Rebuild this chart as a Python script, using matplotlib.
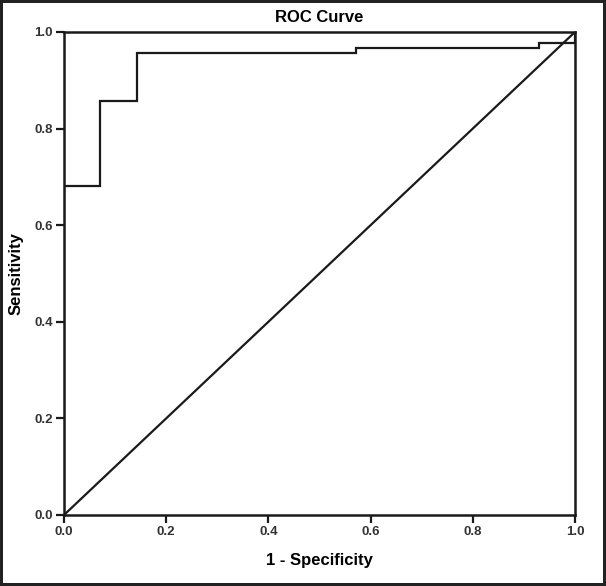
import matplotlib
matplotlib.use("Agg")
import matplotlib.pyplot as plt

plt.rcParams['font.family'] = ['Liberation Sans', 'DejaVu Sans']

# ROC step curve (1 - specificity, sensitivity)
fpr = [0.0, 0.0, 0.071, 0.071, 0.143, 0.143, 0.571, 0.571, 0.929, 0.929, 1.0, 1.0]
tpr = [0.0, 0.682, 0.682, 0.858, 0.858, 0.957, 0.957, 0.967, 0.967, 0.978, 0.978, 1.0]

ref = [0.0, 1.0]
ticks = [0.0, 0.2, 0.4, 0.6, 0.8, 1.0]
tick_labels = ['0.0', '0.2', '0.4', '0.6', '0.8', '1.0']

fig = plt.figure(figsize=(6.06, 5.86), dpi=100)
fig.patch.set_edgecolor('#222222')
fig.patch.set_linewidth(3)
ax = fig.add_axes([0.1056, 0.1212, 0.8432, 0.8242])

ax.plot(fpr, tpr, color='#1a1a1a', lw=1.6, solid_joinstyle='miter')
ax.plot(ref, ref, color='#1a1a1a', lw=1.6)

ax.set_xlim(0, 1)
ax.set_ylim(0, 1)
ax.set_xticks(ticks)
ax.set_xticklabels(tick_labels)
ax.set_yticks(ticks)
ax.set_yticklabels(tick_labels)
for s in ax.spines.values():
    s.set_linewidth(1.8)
    s.set_color('#1a1a1a')
ax.tick_params(direction='out', length=6, width=1.6, labelsize=9.5,
               colors='#1a1a1a', pad=2)
for lab in ax.get_xticklabels() + ax.get_yticklabels():
    lab.set_fontweight('bold')
    lab.set_color('#333333')

ax.set_title('ROC Curve', fontsize=12, fontweight='bold', pad=7)
ax.set_xlabel('1 - Specificity', fontsize=12, fontweight='bold', labelpad=11)
ax.set_ylabel('Sensitivity', fontsize=12, fontweight='bold', labelpad=8)

fig.savefig('out.png', dpi=100, facecolor='white', edgecolor=fig.get_edgecolor())
